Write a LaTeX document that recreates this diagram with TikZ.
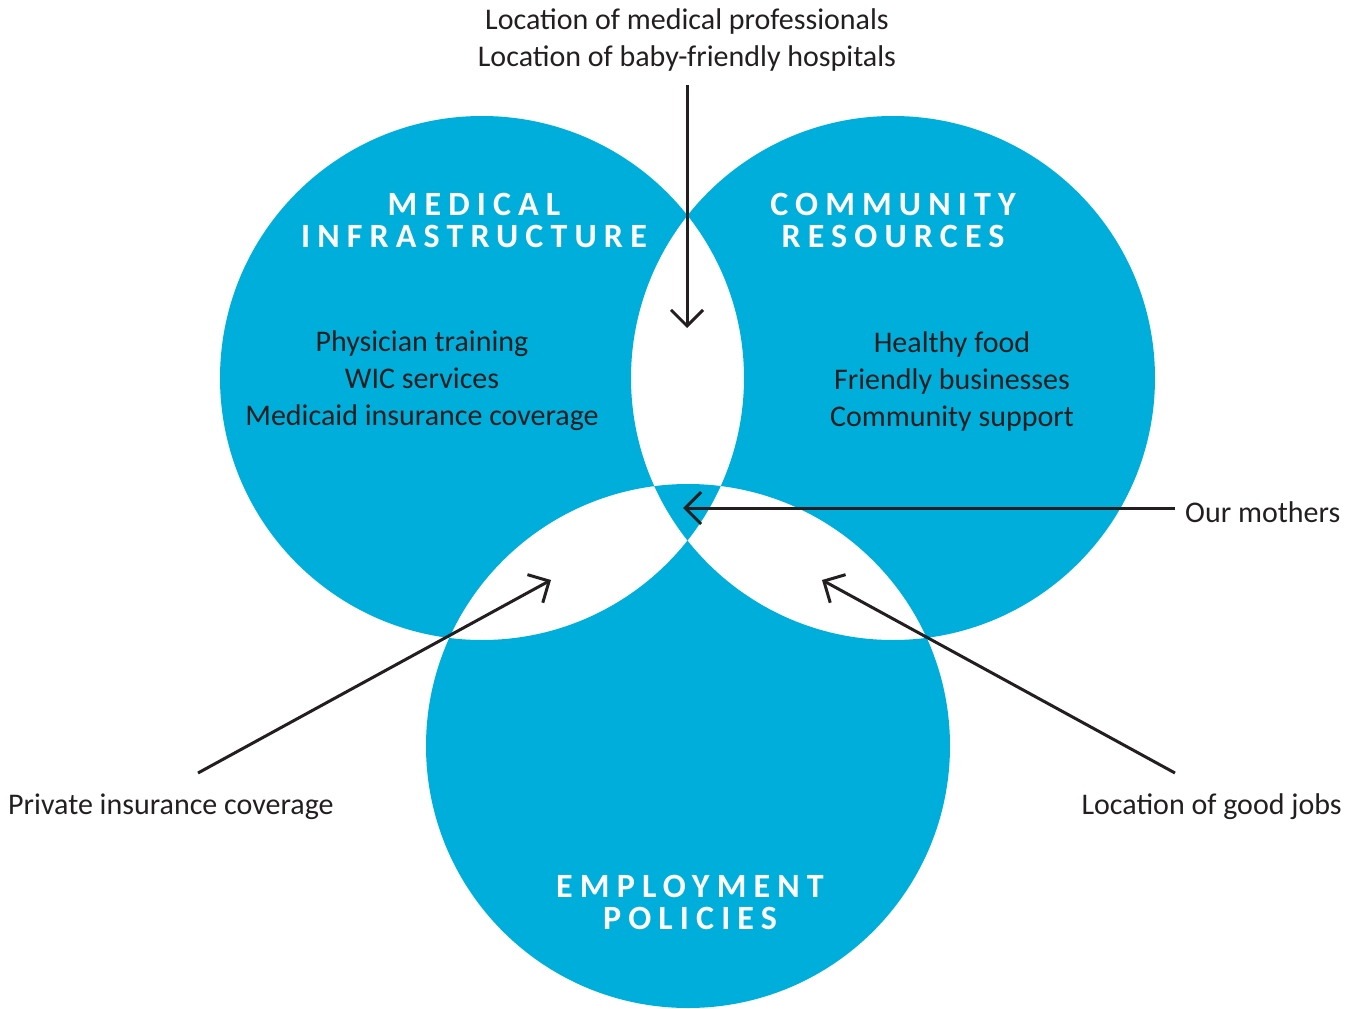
\documentclass[tikz,border=0pt]{standalone}
\usepackage{fontspec}
\setmainfont{Carlito}
\newfontfamily\headfont[LetterSpace=21]{Carlito}
\usetikzlibrary{arrows.meta}
\definecolor{vblue}{RGB}{0,174,219}
\definecolor{ink}{RGB}{35,31,32}
\begin{document}
\begin{tikzpicture}[x=1pt,y=-1pt,
  lbl/.style={text=ink,font=\fontsize{30}{37}\selectfont,align=center,inner sep=0pt},
  head/.style={text=white,font=\headfont\bfseries\fontsize{34}{32}\selectfont,align=center,inner sep=0pt},
  body/.style={text=ink,font=\fontsize{30}{37}\selectfont,align=center,inner sep=0pt},
  pointer/.style={draw=ink,line width=3pt,-{Straight Barb[length=16pt,width=32pt,line width=3pt]}}]
\useasboundingbox (0,0) rectangle (1345,1009);
% circles
\coordinate (cL) at (482,378);
\coordinate (cR) at (893,378);
\coordinate (cB) at (688,746);
\fill[vblue,even odd rule] (cL) circle[radius=262] (cR) circle[radius=262] (cB) circle[radius=262];
% headers
\node[head] (hmed) at (474,220) {MEDICAL\\INFRASTRUCTURE};
\node[head] (hcom) at (893,220) {COMMUNITY\\RESOURCES};
\node[head] (hemp) at (690,902) {EMPLOYMENT\\POLICIES};
% body texts
\node[body] (bmed) at (422,381) {Physician training\\WIC services\\Medicaid insurance coverage};
\node[body] (bcom) at (952,381) {Healthy food\\Friendly businesses\\Community support};
% labels
\node[lbl] (ltop) at (687,40) {Location of medical professionals\\Location of baby-friendly hospitals};
\node[lbl,anchor=west] (lmom) at (1185,512) {Our mothers};
\node[lbl,anchor=west] (lpriv) at (8,807) {Private insurance coverage};
\node[lbl,anchor=east] (ljobs) at (1342,807) {Location of good jobs};
% arrow coordinates
\coordinate (atopS) at (687,85);
\coordinate (atopE) at (687,328);
\coordinate (amomS) at (1175,508);
\coordinate (amomE) at (683,508);
\coordinate (aprivS) at (198,773);
\coordinate (aprivE) at (551,580);
\coordinate (ajobsS) at (1175,773);
\coordinate (ajobsE) at (822,580);
\draw[pointer] (atopS) -- (atopE);
\draw[pointer] (amomS) -- (amomE);
\draw[pointer] (aprivS) -- (aprivE);
\draw[pointer] (ajobsS) -- (ajobsE);
\end{tikzpicture}
\end{document}
